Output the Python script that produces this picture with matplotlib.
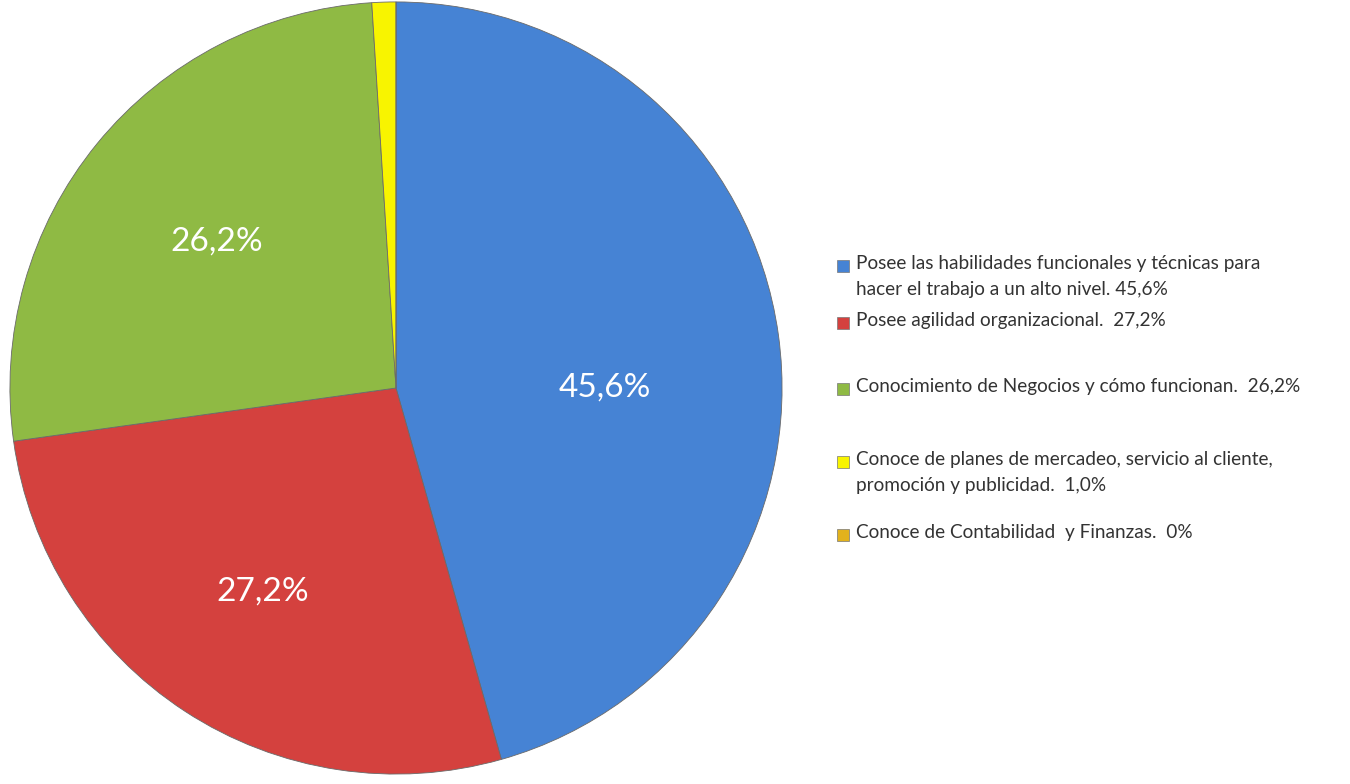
import matplotlib
matplotlib.use("Agg")
import matplotlib.pyplot as plt
from matplotlib.patches import Rectangle

# data
labels = [
    "Posee las habilidades funcionales y técnicas para\nhacer el trabajo a un alto nivel. 45,6%",
    "Posee agilidad organizacional.  27,2%",
    "Conocimiento de Negocios y cómo funcionan.  26,2%",
    "Conoce de planes de mercadeo, servicio al cliente,\npromoción y publicidad.  1,0%",
    "Conoce de Contabilidad  y Finanzas.  0%",
]
values = [45.6, 27.2, 26.2, 1.0, 0.0]
colors = ["#4683d4", "#d4413e", "#8fba44", "#f8f400", "#e2b21c"]
legend_y = [266, 323, 389, 462, 535]  # pixel rows of legend markers

plt.rcParams['font.family'] = ['Lato', 'DejaVu Sans']

W, H = 1350, 784
fig = plt.figure(figsize=(W / 100, H / 100), dpi=100)
ax = fig.add_axes([4 / W, 8 / H, 784 / W, 776 / H])

def fmt(p):
    return f"{p:.1f}".replace(".", ",") + "%" if p > 5 else ""

wedges, texts, autotexts = ax.pie(
    values, colors=colors, startangle=90, counterclock=False,
    autopct=fmt, pctdistance=0.6,
    wedgeprops=dict(edgecolor="#6a6a6a", linewidth=0.6),
    textprops=dict(color="white", fontsize=24),
)
# nudge labels to where the original has them
autotexts[0].set_position((0.54, 0.0))
x, y = autotexts[1].get_position()
autotexts[1].set_position((x * 1.05, y * 1.05))
ax.set_xlim(-1.005, 1.005)
ax.set_ylim(-1.005, 1.005)
ax.set_aspect("equal")
ax.axis("off")

# legend, hand-placed like the original
for lab, col, yp in zip(labels, colors, legend_y):
    fig.patches.append(Rectangle((837 / W, 1 - (yp + 6) / H), 12 / W, 12 / H,
                                 transform=fig.transFigure, facecolor=col,
                                 edgecolor="#777777", linewidth=0.5))
    fig.text(856 / W, 1 - (yp - 11) / H, lab, fontsize=13.7, color="#333333",
             va="top", ha="left", linespacing=1.65)

fig.savefig("out.png", dpi=100)
plt.close()
